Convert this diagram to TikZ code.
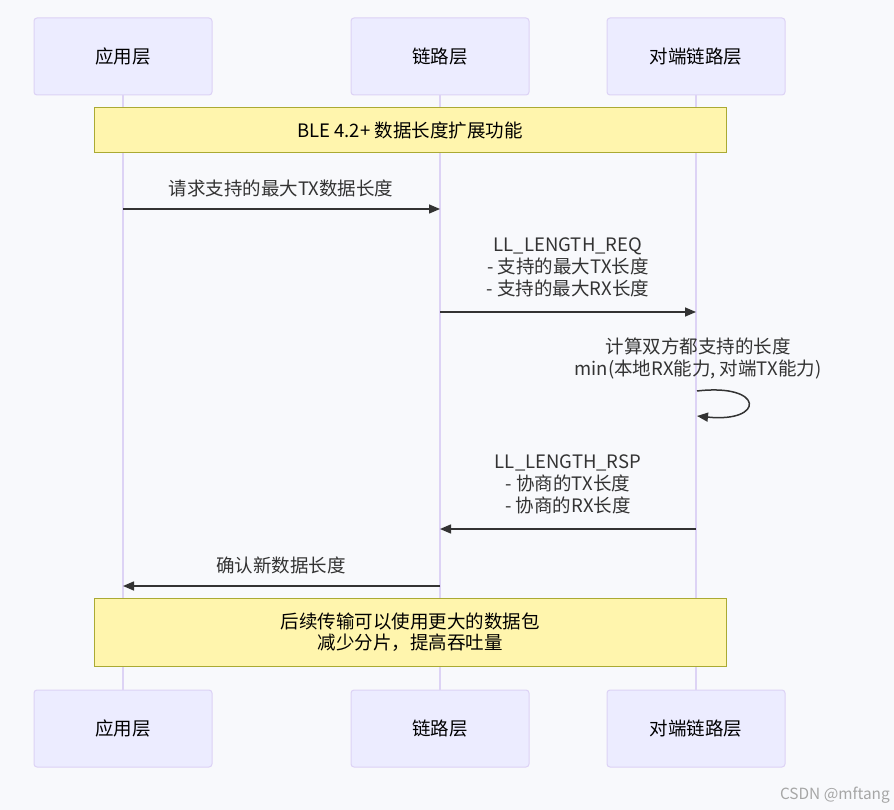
\documentclass[tikz,border=0pt]{standalone}
\usepackage{fontspec}
\setmainfont{Noto Sans CJK SC}
\usetikzlibrary{arrows.meta}
\definecolor{bg}{HTML}{F8F9FC}
\definecolor{actfill}{HTML}{ECECFF}
\definecolor{actdraw}{HTML}{DCD2F5}
\definecolor{lifec}{HTML}{DDD3F5}
\definecolor{notefill}{HTML}{FFF5AD}
\definecolor{notedraw}{HTML}{AAAA33}
\definecolor{txt}{HTML}{333333}
\tikzset{
  actor/.style={draw=actdraw, fill=actfill, line width=1pt, rounded corners=3pt,
    minimum width=178pt, minimum height=77pt, inner sep=0pt,
    font=\fontsize{18.5}{22}\selectfont, text=black},
  notebox/.style={draw=notedraw, fill=notefill, line width=1pt, minimum width=632pt,
    inner sep=0pt, font=\fontsize{18.5}{21.5}\selectfont, text=black, align=center},
  life/.style={draw=lifec, line width=2pt},
  msg/.style={draw=txt, line width=1.5pt, -{Triangle[length=11pt,width=9pt]}},
  msgtext/.style={font=\fontsize{18.5}{22}\selectfont, text=txt, align=center, inner sep=0pt}
}
\begin{document}
\begin{tikzpicture}[x=1pt,y=-1pt]
\useasboundingbox (0,0) rectangle (894,810);
\fill[bg] (0,0) rectangle (894,810);
% actors top
\node[actor] (a1) at (123,56.5) {应用层};
\node[actor] (a2) at (440,56.5) {链路层};
\node[actor] (a3) at (696,56.5) {对端链路层};
% actors bottom
\node[actor] (b1) at (123,728.5) {应用层};
\node[actor] (b2) at (440,728.5) {链路层};
\node[actor] (b3) at (696,728.5) {对端链路层};
% lifelines
\draw[life] (a1.south) -- (b1.north);
\draw[life] (a2.south) -- (b2.north);
\draw[life] (a3.south) -- (b3.north);
% note 1
\node[notebox, minimum height=45pt] (n1) at (410,130.5) {BLE 4.2+ 数据长度扩展功能};
% message 1
\coordinate (m1s) at (123,209);
\coordinate (m1e) at (440,209);
\draw[msg] (m1s) -- (m1e);
\node[msgtext] (t1) at (281,188) {请求支持的最大TX数据长度};
% message 2
\coordinate (m2s) at (440,312);
\coordinate (m2e) at (696,312);
\draw[msg] (m2s) -- (m2e);
\node[msgtext] (t2) at (568,267) {LL\_LENGTH\_REQ\\- 支持的最大TX长度\\- 支持的最大RX长度};
% self message
\coordinate (m3s) at (697,391);
\coordinate (m3e) at (697,416);
\draw[msg] (m3s) .. controls (765,383) and (765,423) .. (m3e);
\node[msgtext] (t3) at (698,358) {计算双方都支持的长度\\min(本地RX能力, 对端TX能力)};
% message 4
\coordinate (m4s) at (696,529);
\coordinate (m4e) at (440,529);
\draw[msg] (m4s) -- (m4e);
\node[msgtext] (t4) at (568,484) {LL\_LENGTH\_RSP\\- 协商的TX长度\\- 协商的RX长度};
% message 5
\coordinate (m5s) at (440,586);
\coordinate (m5e) at (123,586);
\draw[msg] (m5s) -- (m5e);
\node[msgtext] (t5) at (281,565) {确认新数据长度};
% note 2
\node[notebox, minimum height=68pt] (n2) at (410,632) {后续传输可以使用更大的数据包\\减少分片，提高吞吐量};
% watermark
\node[font=\fontsize{15.4}{17}\selectfont, text=black!35, anchor=east, inner sep=0pt] (wm) at (890,795) {CSDN @mftang};
\end{tikzpicture}
\end{document}
